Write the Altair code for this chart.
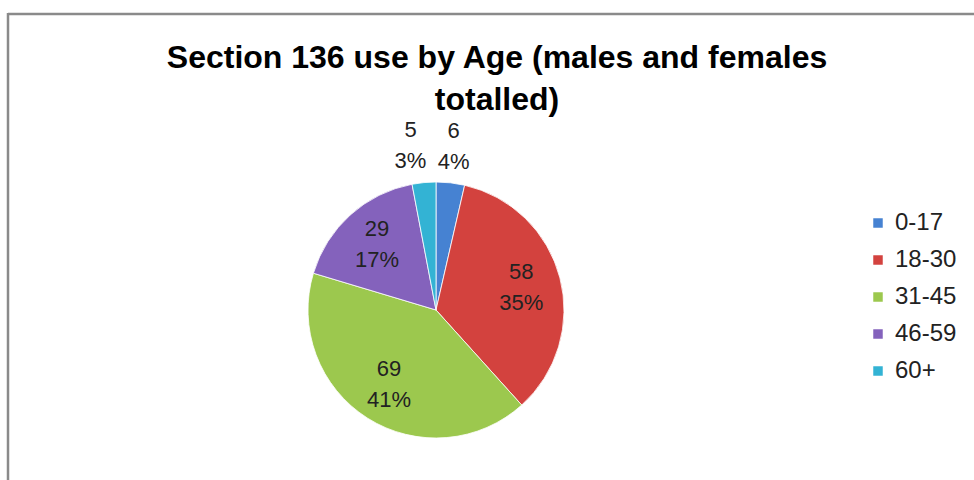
import altair as alt
import pandas as pd

# ---- data ----
ages = ["0-17", "18-30", "31-45", "46-59", "60+"]
counts = [6, 58, 69, 29, 5]
colors = ["#4682D2", "#D3423E", "#9CC84E", "#8462BC", "#33B3D4"]
title_lines = ["Section 136 use by Age (males and females", "totalled)"]

df = pd.DataFrame({"age": ages, "count": counts, "order": list(range(len(ages)))})
one = pd.DataFrame({"t": ["\n".join(title_lines)]})

CX, CY, R = 436, 310, 128
FONT = "Liberation Sans"

base = alt.Chart(df)

pie = base.mark_arc(radius=R, stroke="#ffffff", strokeWidth=0.8).encode(
    theta=alt.Theta("count:Q", stack=True),
    order=alt.Order("order:Q"),
    color=alt.Color(
        "age:N",
        scale=alt.Scale(domain=ages, range=colors),
        legend=alt.Legend(
            title=None,
            orient="none",
            legendX=866,
            legendY=211,
            symbolType="square",
            symbolSize=90,
            symbolStrokeWidth=0,
            labelFont=FONT,
            labelFontSize=24,
            labelColor="#222222",
            labelOffset=5,
            rowPadding=13,
            padding=0,
        ),
    ),
    x=alt.value(CX),
    y=alt.value(CY),
)

labels = (
    base.transform_joinaggregate(total="sum(count)")
    .transform_window(cum="sum(count)", sort=[alt.SortField("order")], frame=[None, 0])
    .transform_calculate(
        mid="(datum.cum - datum.count/2) / datum.total * 2 * PI",
        outside="datum.count / datum.total < 0.05",
        lr="datum.outside ? 165 : 88",
        lx=f"{CX} + datum.lr * sin(datum.mid) + (datum.outside ? (sin(datum.mid) < 0 ? -10 : -1) : 0)",
        ly=f"{CY} - datum.lr * cos(datum.mid)",
        label="datum.count + '\\n' + round(datum.count / datum.total * 100) + '%'",
    )
    .mark_text(
        font=FONT, fontSize=22, lineBreak="\n", lineHeight=31, dy=-15.5,
        baseline="middle", align="center", color="#222222",
    )
    .encode(
        x=alt.X("lx:Q", scale=None),
        y=alt.Y("ly:Q", scale=None),
        text="label:N",
    )
)

title = alt.Chart(one).mark_text(
    font=FONT, fontSize=32, fontWeight="bold", lineBreak="\n", lineHeight=42,
    baseline="alphabetic", align="center", color="#000000",
).encode(x=alt.value(497), y=alt.value(68), text="t:N")

border_top = alt.Chart(one).mark_rule(color="#8a8a8a", strokeWidth=2.5).encode(
    x=alt.value(8), x2=alt.value(974), y=alt.value(14)
)
border_left = alt.Chart(one).mark_rule(color="#8a8a8a", strokeWidth=2.5).encode(
    x=alt.value(8), y=alt.value(13), y2=alt.value(480)
)

chart = (
    alt.layer(border_top, border_left, pie, labels, title)
    .properties(width=974, height=480, padding=0, autosize=alt.AutoSizeParams(type="none"), background="white")
    .configure_view(stroke=None)
)

chart.save("out.html", embed_options={"renderer": "svg", "actions": False})
